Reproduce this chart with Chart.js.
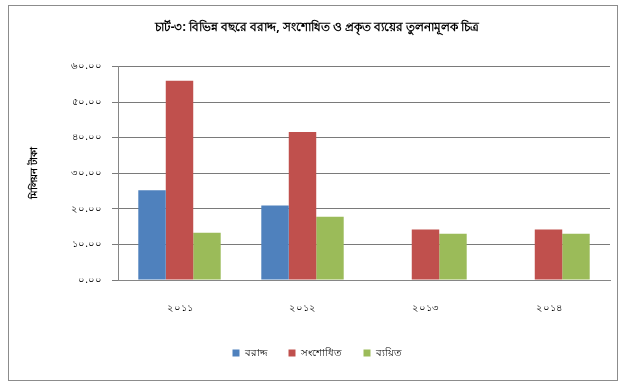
<!DOCTYPE html>
<html>
<head>
<meta charset="utf-8">
<script src="https://cdn.jsdelivr.net/npm/chart.js@4"></script>
<style>
  body { margin: 0; background: #fff; }
  #wrap { position: relative; width: 625px; height: 390px; }
</style>
</head>
<body>
<div id="wrap"><canvas id="graficoBarras" width="625" height="390"></canvas></div>
<script>
// datos del grafico
const anios = ["২০১১", "২০১২", "২০১৩", "২০১৪"];
const serieNombres = ["বরাদ্দ", "সংশোধিত", "ব্যয়িত"];
const serieBarrad = [25.2, 20.9, null, null];
const serieSongshodhito = [56.0, 41.6, 14.2, 14.2];
const serieByoyito = [13.3, 17.8, 13.0, 13.0];
const colores = ["#4F81BD", "#C0504D", "#9BBB59"];
const titulo = "চার্ট-৩: বিভিন্ন বছরে বরাদ্দ, সংশোধিত ও প্রকৃত ব্যয়ের তুলনামূলক চিত্র";
const tituloEje = "মিলিয়ন টাকা";

const digitosBn = ["০", "১", "২", "৩", "৪", "৫", "৬", "৭", "৮", "৯"];
function aBangla(v) {
    return v.toFixed(2).replace(/[0-9]/g, d => digitosBn[d]);
}

const fuente = "'Noto Sans', 'DejaVu Sans', sans-serif";

// marco exterior del grafico
const marco = {
    id: "marco",
    afterDraw(chart) {
        const c = chart.ctx;
        c.save();
        c.strokeStyle = "#8c8c8c";
        c.lineWidth = 1;
        c.strokeRect(8.5, 5.5, 609, 375);
        c.restore();
    }
};

const ctx = document.getElementById("graficoBarras");
new Chart(ctx, {
    type: "bar",
    data: {
        labels: anios,
        datasets: [
            { label: serieNombres[0], data: serieBarrad, backgroundColor: colores[0] },
            { label: serieNombres[1], data: serieSongshodhito, backgroundColor: colores[1] },
            { label: serieNombres[2], data: serieByoyito, backgroundColor: colores[2] }
        ]
    },
    options: {
        responsive: false,
        animation: false,
        layout: { padding: { left: 24, right: 15, top: 8, bottom: 22 } },
        datasets: { bar: { categoryPercentage: 0.67, barPercentage: 1 } },
        plugins: {
            title: {
                display: true,
                text: titulo,
                color: "#000",
                font: { family: fuente, size: 12, weight: "bold" },
                padding: { top: 12, bottom: 32 }
            },
            legend: {
                position: "bottom",
                labels: {
                    boxWidth: 7,
                    boxHeight: 7,
                    color: "#000",
                    font: { family: fuente, size: 10 },
                    padding: 22
                }
            },
            tooltip: { enabled: false }
        },
        scales: {
            x: {
                grid: { display: false },
                border: { color: "#868686" },
                ticks: { color: "#000", font: { family: fuente, size: 10 }, padding: 14 },
                afterFit: s => { s.height = 46; }
            },
            y: {
                min: 0,
                max: 60,
                ticks: {
                    stepSize: 10,
                    color: "#000",
                    font: { family: fuente, size: 10 },
                    padding: 10,
                    callback: v => aBangla(v)
                },
                grid: { color: "#7a7a7a", lineWidth: 1, drawOnChartArea: true, tickLength: 6 },
                border: { color: "#868686" },
                title: {
                    display: true,
                    text: tituloEje,
                    color: "#000",
                    font: { family: fuente, size: 10, weight: "bold" }
                },
                afterFit: s => { s.width = 94; }
            }
        }
    },
    plugins: [marco]
});
</script>
</body>
</html>
